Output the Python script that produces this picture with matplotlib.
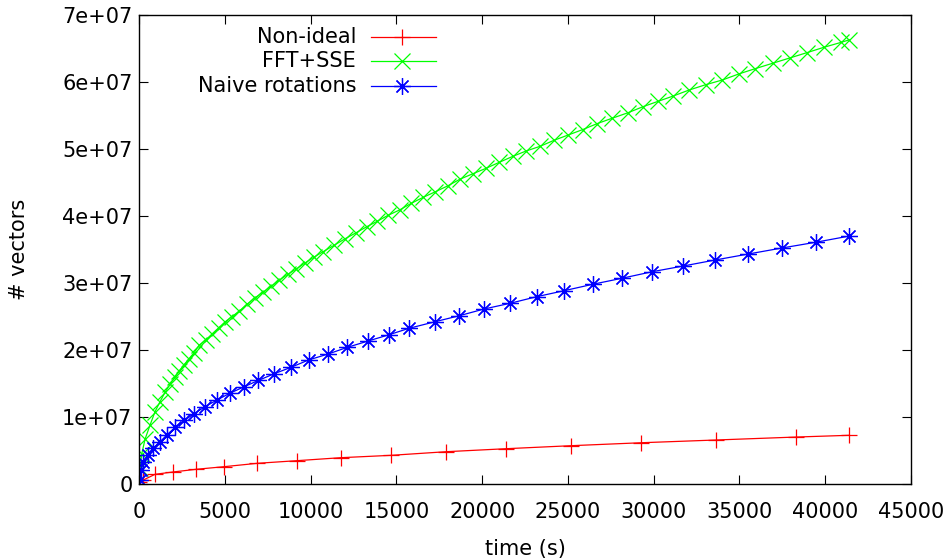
import matplotlib
matplotlib.use("Agg")
from matplotlib import pyplot as plt
from matplotlib.ticker import FuncFormatter, MultipleLocator

# Non-ideal
t_nonideal = [0, 233, 916, 1949, 3290, 4924, 6884, 9183, 11767, 14684, 17893,
              21411, 25203, 29287, 33662, 38312, 41422]
v_nonideal = [0.3e6, 0.6e6, 1.45e6, 1.79e6, 2.19e6, 2.58e6, 3.09e6, 3.48e6, 3.93e6,
              4.28e6, 4.82e6, 5.27e6, 5.72e6, 6.16e6, 6.57e6, 7.01e6, 7.27e6]

# FFT+SSE
t_fft = [41, 140, 333, 624, 916, 1208, 1500, 1792, 2083, 2334, 2608, 2900, 3191,
         3483, 3874, 4241, 4621, 5000, 5408, 5834, 6266, 6750, 7199, 7683, 8150,
         8658, 9159, 9667, 10210, 10735, 11341, 12001, 12642, 13266, 13867, 14509,
         15180, 15868, 16568, 17251, 17992, 18709, 19450, 20209, 20985, 21784,
         22560, 23377, 24194, 25028, 25868, 26720, 27595, 28494, 29369, 30244,
         31137, 32070, 33044, 34013, 34970, 35938, 36953, 37962, 38971, 39963,
         40920, 41421]
v_fft = [2.4e6, 4.5e6, 6.7e6, 8.8e6, 1.08e7, 1.23e7, 1.37e7, 1.49e7, 1.60e7, 1.69e7,
         1.78e7, 1.87e7, 1.96e7, 2.07e7, 2.15e7, 2.24e7, 2.33e7, 2.42e7, 2.50e7,
         2.58e7, 2.68e7, 2.78e7, 2.86e7, 2.95e7, 3.04e7, 3.13e7, 3.21e7, 3.30e7,
         3.39e7, 3.47e7, 3.56e7, 3.66e7, 3.75e7, 3.84e7, 3.92e7, 4.01e7, 4.09e7,
         4.19e7, 4.28e7, 4.36e7, 4.45e7, 4.55e7, 4.63e7, 4.71e7, 4.80e7, 4.89e7,
         4.97e7, 5.04e7, 5.13e7, 5.21e7, 5.29e7, 5.38e7, 5.46e7, 5.54e7, 5.63e7,
         5.71e7, 5.79e7, 5.88e7, 5.96e7, 6.03e7, 6.12e7, 6.20e7, 6.28e7, 6.36e7,
         6.44e7, 6.52e7, 6.59e7, 6.63e7]

# Naive rotations
t_naive = [20, 99, 233, 525, 817, 1208, 1599, 2083, 2625, 3191, 3833, 4533, 5274,
           6091, 6942, 7870, 8850, 9871, 11009, 12135, 13342, 14568, 15734, 17251,
           18669, 20110, 21627, 23184, 24777, 26451, 28143, 29928, 31737, 33586,
           35529, 37477, 39479, 41422]
v_naive = [0.6e6, 2.09e6, 3.28e6, 4.33e6, 5.37e6, 6.31e6, 7.31e6, 8.46e6, 9.48e6,
           1.049e7, 1.154e7, 1.254e7, 1.354e7, 1.449e7, 1.546e7, 1.646e7, 1.742e7,
           1.851e7, 1.940e7, 2.040e7, 2.134e7, 2.228e7, 2.324e7, 2.422e7, 2.512e7,
           2.612e7, 2.697e7, 2.796e7, 2.885e7, 2.981e7, 3.070e7, 3.169e7, 3.254e7,
           3.343e7, 3.433e7, 3.522e7, 3.609e7, 3.701e7]

labels = ["Non-ideal", "FFT+SSE", "Naive rotations"]
colors = ["#ff0000", "#00ff00", "#0000ff"]
markers = ["+", "x", (8, 2, 0)]

plt.rcParams['font.family'] = ['DejaVu Sans']
plt.rcParams['font.size'] = 15

fig = plt.figure(figsize=(9.48, 5.58), dpi=100)
ax = fig.add_axes([0.147, 0.1326, 0.8136, 0.8405])

series = [(t_nonideal, v_nonideal), (t_fft, v_fft), (t_naive, v_naive)]
for (t, v), lab, c, m in zip(series, labels, colors, markers):
    ax.plot(t, v, color=c, linewidth=0.9, marker=m, markersize=12,
            markeredgewidth=0.9, label=lab)

ax.set_xlim(0, 45000)
ax.set_ylim(0, 7e7)
ax.xaxis.set_major_locator(MultipleLocator(5000))
ax.yaxis.set_major_locator(MultipleLocator(1e7))
ax.yaxis.set_major_formatter(FuncFormatter(lambda v, p: "%g" % v))
ax.tick_params(direction='in', length=6.5, width=0.8, top=True, right=True,
               labelsize=15)
ax.tick_params(axis='x', pad=13)
ax.tick_params(axis='y', pad=5)
for s in ax.spines.values():
    s.set_linewidth(1.0)

ax.set_xlabel("time (s)", labelpad=12)
ax.set_ylabel("# vectors", labelpad=24)

# gnuplot-style key: right-aligned text, sample to the right
for i, (lab, c, m) in enumerate(zip(labels, colors, markers)):
    yk = 0.953 - i * 0.052
    ax.text(0.281, yk, lab, transform=ax.transAxes, ha='right', va='center')
    ax.plot([0.30, 0.341, 0.384], [yk, yk, yk], transform=ax.transAxes,
            color=c, linewidth=0.9, marker=m, markersize=12, markevery=[1],
            markeredgewidth=0.9, clip_on=False)

fig.savefig("out.png", dpi=100)
